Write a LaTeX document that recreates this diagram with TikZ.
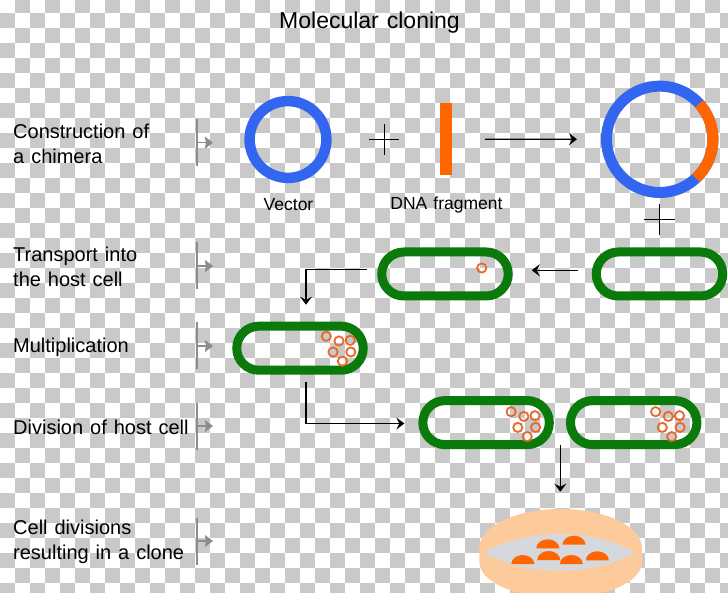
\documentclass[tikz,border=0pt]{standalone}
\usepackage{fontspec}
\setmainfont[WordSpace=1.25]{Liberation Sans}
\usetikzlibrary{arrows.meta,shapes.misc}

\definecolor{checkgray}{HTML}{C9C9C9}
\definecolor{ringblue}{HTML}{3366F0}
\definecolor{fragorange}{HTML}{FF6600}
\definecolor{cellgreen}{HTML}{0A7A0A}
\definecolor{plasmidorange}{HTML}{E8682A}
\definecolor{dishpeach}{HTML}{FDCB9B}
\definecolor{dishgray}{HTML}{D5D8DC}
\definecolor{markgray}{HTML}{8C8C8C}

\tikzset{
  hostcell/.style={rounded rectangle, draw=cellgreen, line width=9pt,
    minimum width=126.5pt, minimum height=44pt, inner sep=0pt},
  ring/.style={circle, draw=ringblue, inner sep=0pt},
  plasmid/.style={circle, draw=plasmidorange, line width=1.8pt, minimum size=9.2pt, inner sep=0pt},
  crossbar/.style={black, line width=1pt},
  flow/.style={black, line width=1.2pt, -{Stealth[length=8pt,width=12pt,inset=3pt]}},
  markbar/.style={fill=markgray, minimum width=1.2pt, minimum height=47pt, inner sep=0pt},
  markflow/.style={markgray, line width=1.2pt, -{Stealth[length=8pt,width=12pt,inset=0.8pt]}},
  steplabel/.style={anchor=west, align=left, inner sep=0pt, font=\fontsize{20}{25}\selectfont},
  partlabel/.style={inner sep=0pt, font=\fontsize{17.5}{21}\selectfont},
  colony/.style={fill=fragorange},
}

\newcommand{\plasmidgroup}[3]{%
  \foreach \dx/\dy in {0/0,12.7/4.7,23.9/4,6.7/15.7,24.5/15.7,16.1/24.9}
    \node[plasmid] (#1\dx) at (#2+\dx,#3+\dy) {};
}
\newcommand{\colonyat}[2]{%
  \fill[colony] (#1-11.5,#2) arc[start angle=180,end angle=0,x radius=11.5pt,y radius=9pt] -- cycle;
}

\begin{document}
\begin{tikzpicture}[x=1pt,y=-1pt]
  \useasboundingbox (0,0) rectangle (728,593);
  \clip (0,0) rectangle (728,593);
  \fill[white] (0,0) rectangle (728,593);
  \foreach \i in {0,...,48}
    \foreach \j in {0,...,40} {
      \pgfmathtruncatemacro{\odd}{mod(\i+\j,2)}
      \ifnum\odd=1
        \fill[checkgray] (15*\i,15*\j-2.3) rectangle (15*\i+15,15*\j+12.7);
      \fi
    }

  \node[font=\fontsize{23}{26}\selectfont] (title) at (369.5,23) {Molecular cloning};

  \node[steplabel] (step1) at (13,144) {Construction of\\a chimera};
  \node[steplabel] (step2) at (13,267) {Transport into\\the host cell};
  \node[steplabel] (step3) at (13,347) {Multiplication};
  \node[steplabel] (step4) at (13,427) {Division of host cell};
  \node[steplabel] (step5) at (13,542) {Cell divisions\\resulting in a clone};

  \foreach \n/\y in {1/142.7,2/266,3/346,4/426,5/541} {
    \node[markbar] (bar\n) at (197,\y) {};
    \coordinate (tip\n) at (213,\y);
    \draw[markflow] (bar\n.center) -- (tip\n);
  }

  \node[ring, line width=10.5pt, minimum size=76.8pt] (vector) at (288,139.5) {};
  \node[partlabel] (vectorlabel) at (288.5,205) {Vector};

  \draw[crossbar] (369,139.3) -- (399,139.3);
  \draw[crossbar] (384,124) -- (384,155);

  \node[fill=fragorange, minimum width=11.7pt, minimum height=71.7pt, inner sep=0pt] (fragment) at (445.8,139.2) {};
  \node[partlabel] (fragmentlabel) at (446.5,205) {DNA fragment};

  \node[ring, line width=11pt, minimum size=106.4pt] (chimera) at (659.7,139.3) {};
  \draw[fragorange, line width=11pt] ([shift={(-47:53.2pt)}]chimera.center)
    arc[start angle=-47,end angle=42,radius=53.2pt];
  \draw[flow, shorten <=33pt, shorten >=24pt] (fragment) -- (chimera);

  \draw[crossbar] (644.2,220) -- (675.2,220);
  \draw[crossbar] (659.7,204.5) -- (659.7,235.5);

  \node[hostcell] (hostb) at (659.5,274) {};
  \node[hostcell] (hosta) at (445,274) {};
  \node[plasmid] (single) at (481.7,268) {};
  \draw[flow, shorten <=14pt] ([yshift=3.7pt]hostb.west) -- ([yshift=3.7pt,xshift=-60pt]hostb.west);

  \node[hostcell] (multi) at (300,348.2) {};
  \plasmidgroup{pm}{326.3}{336.3}
  \draw[flow, shorten <=10pt, shorten >=17pt] ([yshift=4.7pt]hosta.west) -| ([xshift=6pt]multi.north);

  \node[hostcell] (dividea) at (486.1,422.6) {};
  \node[hostcell] (divideb) at (633.7,422.6) {};
  \plasmidgroup{pa}{511.1}{411.7}
  \plasmidgroup{pb}{655.6}{411.7}
  \draw[flow, shorten <=7pt, shorten >=14pt] ([xshift=6pt]multi.south) |- ([yshift=-0.9pt]dividea.west);

  \fill[dishpeach] (479.3,548) arc[start angle=180,end angle=0,x radius=81.3pt,y radius=39pt]
    -- (642,562) arc[start angle=0,end angle=-180,x radius=81.3pt,y radius=36pt] -- cycle;
  \fill[dishgray] (484.3,552.7) .. controls (525,527.8) and (595,527.8) .. (635,552.7)
    .. controls (595,576.6) and (525,576.6) .. (484.3,552.7);
  \colonyat{547.8}{548.3}
  \colonyat{574}{544.7}
  \colonyat{522.8}{564}
  \colonyat{548.7}{560}
  \colonyat{571.3}{564}
  \colonyat{597.3}{560.3}

  \coordinate (gap) at (560.3,445);
  \coordinate (dishtop) at (560.3,491.7);
  \draw[flow] (gap) -- (dishtop);
\end{tikzpicture}
\end{document}
